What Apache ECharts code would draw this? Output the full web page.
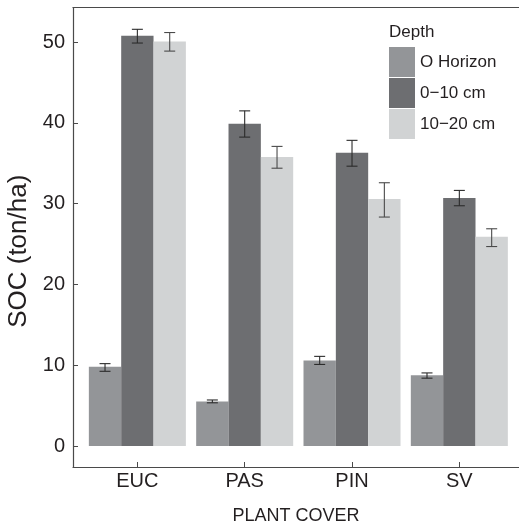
<!DOCTYPE html>
<html>
<head>
<meta charset="utf-8">
<script src="https://cdn.jsdelivr.net/npm/echarts@6/dist/echarts.min.js"></script>
<style>
	html, body { margin: 0; padding: 0; background: #fff; }
	#div1 { width: 519px; height: 525px; }
</style>
</head>
<body>
<div id="div1"></div>
<script>
var categories = ['EUC', 'PAS', 'PIN', 'SV'];
var depthNames = ['O Horizon', '0\u221210 cm', '10\u221220 cm'];

// bar heights (ton/ha)
var oHorizon = [9.8, 5.5, 10.6, 8.75];
var cm0to10 = [50.8, 39.9, 36.3, 30.7];
var cm10to20 = [50.1, 35.8, 30.6, 25.9];

// error bar ends
var oLow = [9.25, 5.35, 10.1, 8.4];
var oHigh = [10.2, 5.7, 11.1, 9.05];
var cm0to10Low = [49.9, 38.25, 34.65, 29.75];
var cm0to10High = [51.6, 41.5, 37.85, 31.65];
var cm10to20Low = [48.9, 34.4, 28.35, 24.7];
var cm10to20High = [51.2, 37.1, 32.6, 26.9];

var yTicks = [0, 10, 20, 30, 40, 50];

var colors = ['#939598', '#6d6e71', '#d1d3d4'];
var errColors = ['#2b2b2b', '#2b2b2b', '#4a4a4a'];
var gapPct = 0.096;

function errData(low, high) {
	var out = [];
	for (var i = 0; i < categories.length; i++) {
		out.push([i, low[i], high[i]]);
	}
	return out;
}

function errRender(k) {
	return function (params, api) {
		var x = api.value(0);
		var lo = api.coord([x, api.value(1)]);
		var hi = api.coord([x, api.value(2)]);
		var band = api.size([1, 0])[0];
		var bw = band * (1 - gapPct) / 3;
		var cx = lo[0] + (k - 1) * bw;
		var half = 5.5;
		var st = { stroke: errColors[k], lineWidth: 1.1 };
		return {
			type: 'group',
			children: [
				{ type: 'line', shape: { x1: cx, y1: lo[1], x2: cx, y2: hi[1] }, style: st },
				{ type: 'line', shape: { x1: cx - half, y1: lo[1], x2: cx + half, y2: lo[1] }, style: st },
				{ type: 'line', shape: { x1: cx - half, y1: hi[1], x2: cx + half, y2: hi[1] }, style: st }
			]
		};
	};
}

var axisColor = '#4a4a4a';
var textColor = '#231f20';

var chart = echarts.init(document.getElementById('div1'));
chart.setOption({
	animation: false,
	textStyle: { fontFamily: 'Liberation Sans, Arial, sans-serif', color: textColor },
	title: {
		text: 'Depth',
		left: 389,
		top: 24,
		padding: 0,
		textStyle: { fontSize: 17, fontWeight: 'normal', color: textColor }
	},
	legend: {
		data: depthNames,
		orient: 'vertical',
		left: 389,
		top: 47,
		padding: 0,
		icon: 'rect',
		itemWidth: 26,
		itemHeight: 30,
		itemGap: 1,
		itemStyle: { borderWidth: 0 },
		textStyle: { fontSize: 17, color: textColor, padding: [0, 0, 0, 0] }
	},
	grid: [
		{ left: 73, right: 0, top: 7.5, bottom: 58, outerBoundsMode: 'none', containLabel: false },
		{ left: 83.7, right: 6, top: 7.5, bottom: 58, outerBoundsMode: 'none', containLabel: false }
	],
	xAxis: [
		{
			gridIndex: 0,
			type: 'value',
			min: 0,
			max: 1,
			name: 'PLANT COVER',
			nameLocation: 'middle',
			nameGap: 40,
			nameTextStyle: { fontSize: 18, color: textColor },
			axisLine: { onZero: false, lineStyle: { color: axisColor, width: 1.2 } },
			axisTick: { show: false },
			axisLabel: { show: false },
			splitLine: { show: false }
		},
		{
			gridIndex: 1,
			type: 'category',
			data: categories,
			axisLine: { show: false, onZero: false },
			axisTick: { show: true, inside: true, length: 5, alignWithLabel: true, lineStyle: { color: axisColor } },
			axisLabel: { fontSize: 20, margin: 4, color: textColor },
			splitLine: { show: false }
		},
		{
			gridIndex: 0,
			type: 'value',
			position: 'top',
			min: 0,
			max: 1,
			axisLine: { onZero: false, lineStyle: { color: axisColor, width: 1.2 } },
			axisTick: { show: false },
			axisLabel: { show: false },
			splitLine: { show: false }
		}
	],
	yAxis: [
		{
			gridIndex: 0,
			type: 'value',
			min: -2.6,
			max: 54.3,
			name: 'SOC (ton/ha)',
			nameLocation: 'middle',
			nameGap: 36,
			nameTextStyle: { fontSize: 26, color: textColor, padding: [0, 28, 0, 0] },
			axisLine: { show: true, onZero: false, lineStyle: { color: axisColor, width: 1.2 } },
			axisTick: { show: true, inside: true, length: 5, customValues: yTicks, lineStyle: { color: axisColor } },
			axisLabel: { fontSize: 20, margin: 8, color: textColor, customValues: yTicks },
			splitLine: { show: false }
		},
		{
			gridIndex: 1,
			type: 'value',
			min: -2.6,
			max: 54.3,
			show: false
		}
	],
	series: [
		{
			name: depthNames[0], type: 'bar', xAxisIndex: 1, yAxisIndex: 1,
			barGap: '0%', barCategoryGap: (gapPct * 100) + '%',
			itemStyle: { color: colors[0] }, data: oHorizon
		},
		{
			name: depthNames[1], type: 'bar', xAxisIndex: 1, yAxisIndex: 1,
			barGap: '0%', barCategoryGap: (gapPct * 100) + '%',
			itemStyle: { color: colors[1] }, data: cm0to10
		},
		{
			name: depthNames[2], type: 'bar', xAxisIndex: 1, yAxisIndex: 1,
			barGap: '0%', barCategoryGap: (gapPct * 100) + '%',
			itemStyle: { color: colors[2] }, data: cm10to20
		},
		{
			type: 'custom', xAxisIndex: 1, yAxisIndex: 1, z: 5,
			renderItem: errRender(0), encode: { x: 0, y: [1, 2] },
			data: errData(oLow, oHigh)
		},
		{
			type: 'custom', xAxisIndex: 1, yAxisIndex: 1, z: 5,
			renderItem: errRender(1), encode: { x: 0, y: [1, 2] },
			data: errData(cm0to10Low, cm0to10High)
		},
		{
			type: 'custom', xAxisIndex: 1, yAxisIndex: 1, z: 5,
			renderItem: errRender(2), encode: { x: 0, y: [1, 2] },
			data: errData(cm10to20Low, cm10to20High)
		}
	]
});
</script>
</body>
</html>
